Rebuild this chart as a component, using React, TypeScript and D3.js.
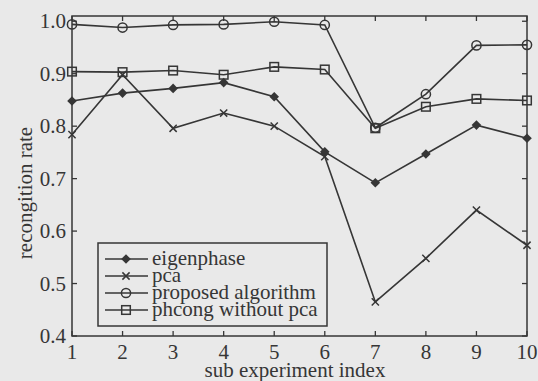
import React from 'react'
import * as d3 from 'd3'

// sub experiment index 1..10
const xIndex = [1, 2, 3, 4, 5, 6, 7, 8, 9, 10]
const eigenphase = [0.848, 0.863, 0.872, 0.883, 0.856, 0.751, 0.692, 0.747, 0.802, 0.777]
const pca = [0.784, 0.898, 0.796, 0.825, 0.8, 0.742, 0.465, 0.548, 0.64, 0.573]
const proposed = [0.994, 0.988, 0.993, 0.994, 0.999, 0.993, 0.797, 0.861, 0.954, 0.955]
const phcong = [0.904, 0.903, 0.906, 0.898, 0.913, 0.908, 0.796, 0.837, 0.852, 0.849]
const yTicks = [0.4, 0.5, 0.6, 0.7, 0.8, 0.9, 1.0]
const seriesNames = ['eigenphase', 'pca', 'proposed algorithm', 'phcong without pca']

const W = 538
const H = 381
const ink = '#363636'
const font = "'Liberation Serif', 'Times New Roman', 'DejaVu Serif', serif"

const x = d3.scaleLinear().domain([1, 10]).range([72, 527])
const y = d3.scaleLinear().domain([0.4, 1.01]).range([336, 16])

const Marker = ({ kind, cx, cy }: { kind: string; cx: number; cy: number }) => {
  if (kind === 'diamond') {
    const s = 4.8
    return <path d={`M${cx},${cy - s}L${cx + s},${cy}L${cx},${cy + s}L${cx - s},${cy}Z`} fill={ink} />
  }
  if (kind === 'cross') {
    const s = 3.6
    return <path d={`M${cx - s},${cy - s}L${cx + s},${cy + s}M${cx - s},${cy + s}L${cx + s},${cy - s}`} stroke={ink} strokeWidth={1.5} />
  }
  if (kind === 'circle') {
    return <circle cx={cx} cy={cy} r={4.6} fill="none" stroke={ink} strokeWidth={1.5} />
  }
  return <rect x={cx - 4.3} y={cy - 4.3} width={8.6} height={8.6} fill="none" stroke={ink} strokeWidth={1.5} />
}

export default function App() {
  const series = [
    { name: seriesNames[0], values: eigenphase, kind: 'diamond' },
    { name: seriesNames[1], values: pca, kind: 'cross' },
    { name: seriesNames[2], values: proposed, kind: 'circle' },
    { name: seriesNames[3], values: phcong, kind: 'square' },
  ]
  const line = d3.line<number>().x((_, i) => x(xIndex[i])).y((d) => y(d))
  const [x0, x1] = x.range()
  const [yb, yt] = y.range()

  return (
    <svg width={W} height={H} style={{ position: 'absolute', left: 0, top: 0, background: '#e9e9e9', fontFamily: font }}>
      <rect x={0} y={0} width={W} height={H} fill="#e9e9e9" />
      {/* ticks */}
      {xIndex.map((v) => (
        <g key={'xt' + v}>
          <line x1={x(v)} x2={x(v)} y1={yb} y2={yb - 5} stroke={ink} strokeWidth={1.3} />
          <line x1={x(v)} x2={x(v)} y1={yt} y2={yt + 5} stroke={ink} strokeWidth={1.3} />
          <text x={x(v)} y={359} textAnchor="middle" fontSize={21} fill={ink}>{v}</text>
        </g>
      ))}
      {yTicks.map((v) => (
        <g key={'yt' + v}>
          <line x1={x0} x2={x0 + 5} y1={y(v)} y2={y(v)} stroke={ink} strokeWidth={1.3} />
          <line x1={x1} x2={x1 - 5} y1={y(v)} y2={y(v)} stroke={ink} strokeWidth={1.3} />
          <text x={66} y={y(v) + 7} textAnchor="end" fontSize={21} fill={ink}>{v.toFixed(1)}</text>
        </g>
      ))}
      <rect x={x0} y={yt} width={x1 - x0} height={yb - yt} fill="none" stroke={ink} strokeWidth={1.5} />

      {series.map((s) => (
        <g key={s.name}>
          <path d={line(s.values) || ''} fill="none" stroke={ink} strokeWidth={1.6} />
          {s.values.map((v, i) => (
            <Marker key={i} kind={s.kind} cx={x(xIndex[i])} cy={y(v)} />
          ))}
        </g>
      ))}

      {/* legend */}
      <rect x={98} y={243} width={229} height={83} fill="#e9e9e9" stroke={ink} strokeWidth={1.5} />
      {series.map((s, i) => {
        const ly = 259 + i * 17
        return (
          <g key={'lg' + s.name}>
            <line x1={105} x2={148} y1={ly} y2={ly} stroke={ink} strokeWidth={1.6} />
            <Marker kind={s.kind} cx={126} cy={ly} />
            <text x={152} y={ly + 6} fontSize={21} fill={ink}>{s.name}</text>
          </g>
        )
      })}

      <text x={295} y={377} textAnchor="middle" fontSize={21} fill={ink}>sub experiment index</text>
      <text transform={`translate(32,${193}) rotate(-90)`} textAnchor="middle" fontSize={21} fill={ink}>recongition rate</text>
    </svg>
  )
}
